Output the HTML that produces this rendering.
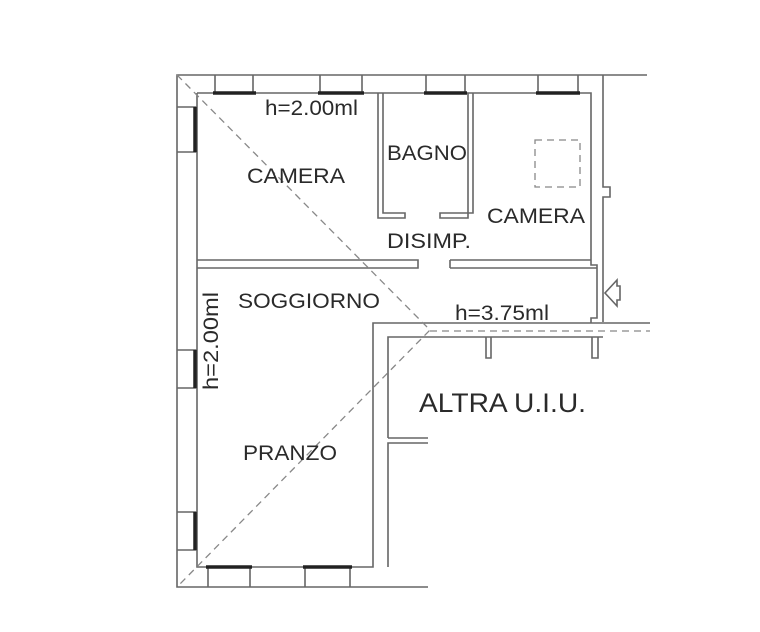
<!DOCTYPE html>
<html><head><style>html,body{margin:0;padding:0;background:#fff}svg{display:block}text{font-family:"Liberation Sans",sans-serif;fill:#2a2a2a}</style></head>
<body>
<svg width="760" height="632" viewBox="0 0 760 632" xmlns="http://www.w3.org/2000/svg">
<g fill="none" stroke="#666" stroke-width="1.6">
<path d="M647 75 H177 V587 H428"/>
<path d="M197 93 V567 H373 V323 H650"/>
<path d="M197 93 H591 V265 H597 V318 H591 V323"/>
<path d="M603 75 V187 H610 V197 H603 V322"/>
<path d="M388 567 V443 H428 M388 438 H428 M388 438 V337 H603"/>
<path d="M378 93 V218 H405 V213 H383 V93"/>
<path d="M468 93 V218 H440 V213 H473 V93"/>
<path d="M197 260 H418 V268 H197"/>
<path d="M450 260 H591 M450 268 H597 M450 260 V268"/>
<path d="M486 337 V358 H491 V337 M592 337 V358 H598 V337"/>
<path d="M215 75 V93 M253 75 V93 M320 75 V93 M362 75 V93 M426 75 V93 M465 75 V93 M538 75 V93 M578 75 V93"/>
<path d="M208 567 V587 M250 567 V587 M305 567 V587 M350 567 V587"/>
<path d="M177 107 H197 M177 152 H197 M177 350 H197 M177 388 H197 M177 512 H197 M177 550 H197"/>
<path d="M617 280 L605 293 L617 306 V300 H620 V286 H617 Z"/>
</g>
<g stroke="#222" stroke-width="3.5">
<path d="M213 93 H256 M318 93 H364 M424 93 H467 M536 93 H580"/>
<path d="M206 567 H252 M303 567 H352"/>
<path d="M195 107 V152 M195 350 V388 M195 512 V550"/>
</g>
<g fill="none" stroke="#888" stroke-width="1.3" stroke-dasharray="7,5">
<path d="M177 75 L430 330 L177 587"/>
<path d="M430 331 H650"/>
<path d="M535 140 H580 V187 H535 Z"/>
</g>
<g font-size="21" lengthAdjust="spacingAndGlyphs">
<text x="265" y="115" textLength="93" lengthAdjust="spacingAndGlyphs">h=2.00ml</text>
<text x="247" y="183" textLength="98" lengthAdjust="spacingAndGlyphs">CAMERA</text>
<text x="387" y="160" textLength="80" lengthAdjust="spacingAndGlyphs">BAGNO</text>
<text x="487" y="223" textLength="98" lengthAdjust="spacingAndGlyphs">CAMERA</text>
<text x="387" y="248" textLength="84" lengthAdjust="spacingAndGlyphs">DISIMP.</text>
<text x="238" y="308" textLength="142" lengthAdjust="spacingAndGlyphs">SOGGIORNO</text>
<text x="455" y="320" textLength="94" lengthAdjust="spacingAndGlyphs">h=3.75ml</text>
<text x="243" y="460" textLength="94" lengthAdjust="spacingAndGlyphs">PRANZO</text>
<text x="419" y="412" font-size="27" textLength="167" lengthAdjust="spacingAndGlyphs">ALTRA U.I.U.</text>
<text transform="translate(218,390) rotate(-90)" textLength="98" lengthAdjust="spacingAndGlyphs">h=2.00ml</text>
</g>
</svg>
</body></html>
